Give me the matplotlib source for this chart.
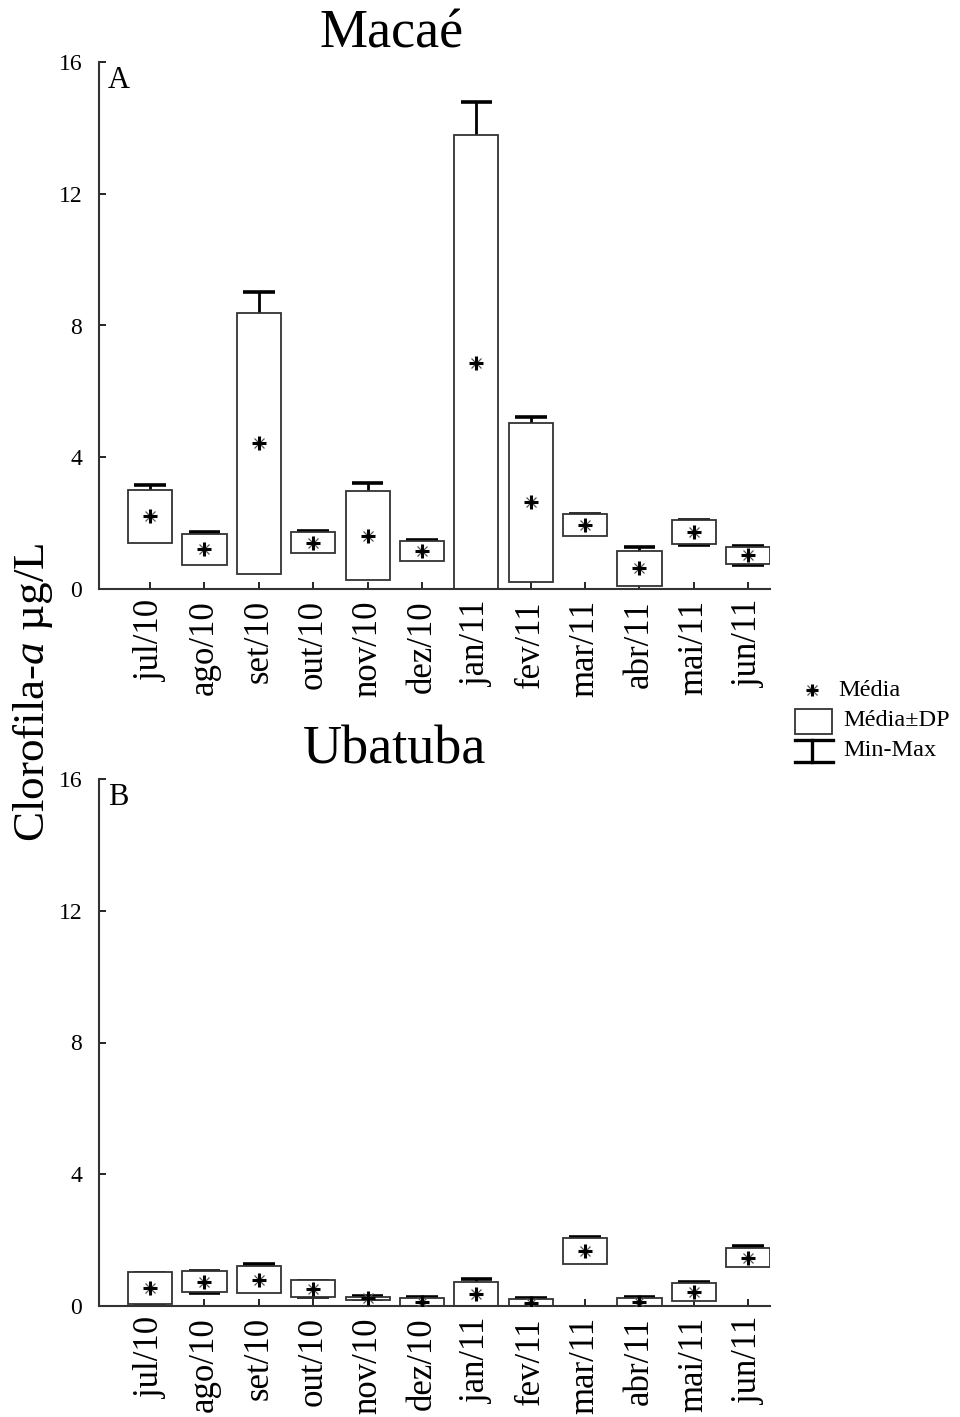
import matplotlib
matplotlib.use("Agg")
import matplotlib.pyplot as plt
import numpy as np
from matplotlib.lines import Line2D
from matplotlib.patches import Rectangle

plt.rcParams['font.family'] = ['Liberation Serif', 'DejaVu Serif']
plt.rcParams['mathtext.fontset'] = 'custom'
plt.rcParams['mathtext.rm'] = 'Liberation Serif'
plt.rcParams['mathtext.it'] = 'Liberation Serif:italic'

meses = ['jul/10', 'ago/10', 'set/10', 'out/10', 'nov/10', 'dez/10',
         'jan/11', 'fev/11', 'mar/11', 'abr/11', 'mai/11', 'jun/11']
yticks = [0, 4, 8, 12, 16]

# Macaé: clorofila-a (µg/L)
macae_media = [2.21, 1.21, 4.42, 1.41, 1.62, 1.15, 6.86, 2.63, 1.94, 0.63, 1.73, 1.02]
macae_dp    = [0.80, 0.47, 3.97, 0.31, 1.35, 0.30, 6.92, 2.41, 0.33, 0.53, 0.37, 0.26]
macae_min   = [1.60, 0.90, 0.70, 1.20, 0.50, 0.90, 0.60, 0.50, 1.70, 0.20, 1.33, 0.74]
macae_max   = [3.16, 1.73, 9.02, 1.77, 3.21, 1.50, 14.78, 5.23, 2.29, 1.28, 2.10, 1.30]

# Ubatuba: clorofila-a (µg/L)
uba_media = [0.54, 0.74, 0.80, 0.53, 0.23, 0.12, 0.37, 0.10, 1.66, 0.12, 0.43, 1.47]
uba_dp    = [0.49, 0.33, 0.40, 0.25, 0.05, 0.12, 0.37, 0.10, 0.39, 0.13, 0.28, 0.28]
uba_min   = [0.10, 0.40, 0.45, 0.27, 0.20, 0.05, 0.05, 0.03, 1.40, 0.03, 0.20, 1.30]
uba_max   = [1.00, 1.05, 1.27, 0.75, 0.31, 0.27, 0.81, 0.25, 2.09, 0.28, 0.74, 1.83]

W, H = 960, 1417
fig = plt.figure(figsize=(W / 100, H / 100), dpi=100)

left, right = 99 / W, 770 / W
axA = fig.add_axes([left, 1 - 589 / H, right - left, (589 - 62) / H])
axB = fig.add_axes([left, 1 - 1306 / H, right - left, (1306 - 779) / H])

BOX_W = 0.81
CAP_W = 0.58


def marca_media(ax, x, y, ms=10, zorder=3):
    # star: heavy cross plus light diagonals
    ax.plot(x, y, ls='none', marker='x', ms=ms * 0.75, mew=0.9,
            color='#555555', zorder=zorder)
    ax.plot(x, y, ls='none', marker='+', ms=ms, mew=2.2,
            color='black', zorder=zorder)


def painel(ax, media, dp, vmin, vmax, letra):
    x = np.arange(len(meses))
    media = np.asarray(media)
    dp = np.asarray(dp)
    # whiskers (behind the boxes)
    ax.vlines(x, vmin, vmax, color='black', lw=2.0, zorder=1)
    ax.hlines(vmax, x - CAP_W / 2, x + CAP_W / 2, color='black', lw=2.6, zorder=1)
    ax.hlines(vmin, x - CAP_W / 2, x + CAP_W / 2, color='black', lw=2.6, zorder=1)
    # mean ± SD boxes
    ax.bar(x, 2 * dp, bottom=media - dp, width=BOX_W, facecolor='white',
           edgecolor='#333333', linewidth=1.3, zorder=2)
    # means
    marca_media(ax, x, media)

    ax.set_xlim(-0.94, 11.40)
    ax.set_ylim(0, 16)
    ax.set_yticks(yticks)
    ax.set_xticks(x)
    ax.set_xticklabels(meses, rotation=90, fontsize=25)
    ax.tick_params(axis='y', labelsize=17, direction='in', length=5,
                   width=1.2, pad=12)
    ax.tick_params(axis='x', direction='in', length=5, width=1.2, pad=8)
    for s in ('top', 'right'):
        ax.spines[s].set_visible(False)
    for s in ('left', 'bottom'):
        ax.spines[s].set_linewidth(1.5)
        ax.spines[s].set_color('#333333')
    ax.text(0.013, 0.993, letra, transform=ax.transAxes, fontsize=22,
            ha='left', va='top')


painel(axA, macae_media, macae_dp, macae_min, macae_max, 'A')
painel(axB, uba_media, uba_dp, uba_min, uba_max, 'B')

fig.text(392 / W, 1 - 34 / H, 'Macaé', fontsize=39, ha='center', va='center')
fig.text(395 / W, 1 - 750 / H, 'Ubatuba', fontsize=39, ha='center', va='center')

fig.text(33 / W, 1 - 692 / H, 'Clorofila-$\\mathit{a}$ µg/L', fontsize=32.5,
         rotation=90, ha='center', va='center')

# legend
leg = fig.add_axes([0, 0, 1, 1], facecolor='none')
leg.set_xlim(0, W)
leg.set_ylim(H, 0)
leg.axis('off')
marca_media(leg, [812], [690], ms=9)
leg.add_patch(Rectangle((795, 709), 37, 25, facecolor='white',
                        edgecolor='#333333', lw=1.3))
leg.plot([795, 833], [740, 740], color='black', lw=2.4)
leg.plot([812, 812], [740, 762], color='black', lw=2.4)
leg.plot([795, 833], [762, 762], color='black', lw=2.4)
leg.text(838, 690, 'Média', fontsize=17.5, ha='left', va='center')
leg.text(843, 720, 'Média±DP', fontsize=17.5, ha='left', va='center')
leg.text(843, 751, 'Min-Max', fontsize=17.5, ha='left', va='center')

fig.savefig('out.png', dpi=100, facecolor='white')
